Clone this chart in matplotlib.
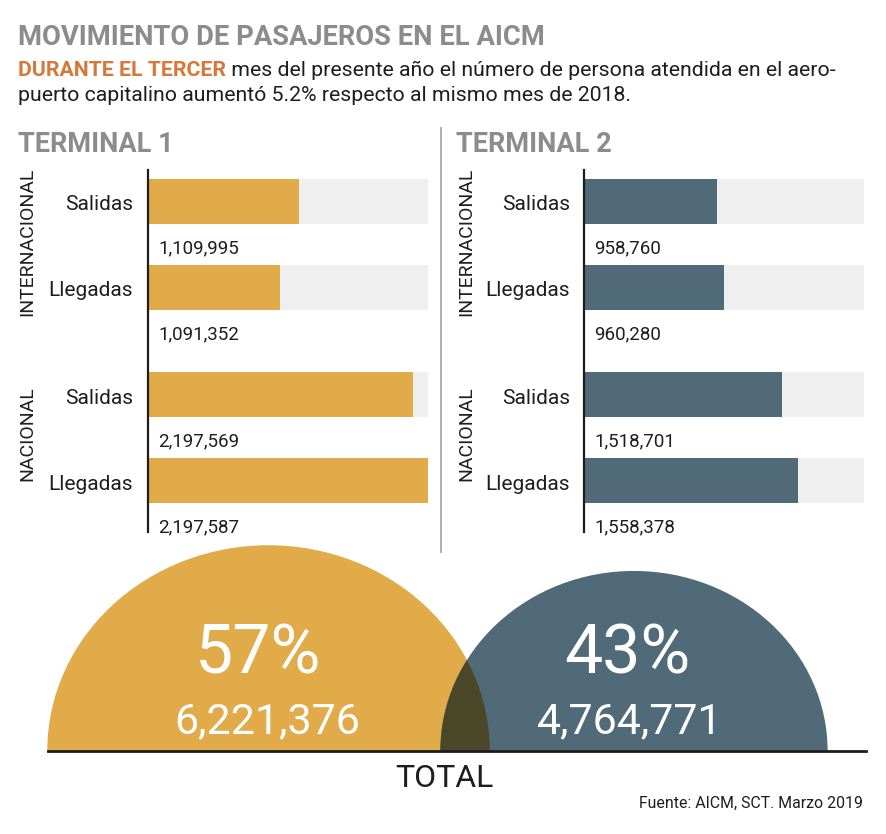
import matplotlib
matplotlib.use("Agg")
import matplotlib.pyplot as plt
from matplotlib.patches import Ellipse
from matplotlib.text import Annotation
import numpy as np

plt.rcParams['font.family'] = ['Roboto', 'DejaVu Sans']

# ---------------- data ----------------
title = "MOVIMIENTO DE PASAJEROS EN EL AICM"
lead_bold = "DURANTE EL TERCER"
lead_rest1 = " mes del presente año el número de persona atendida en el aero-"
lead_line2 = "puerto capitalino aumentó 5.2% respecto al mismo mes de 2018."
terminals = ["TERMINAL 1", "TERMINAL 2"]
groups = ["INTERNACIONAL", "NACIONAL"]
categories = ["Salidas", "Llegadas", "Salidas", "Llegadas"]
t1_values = [1109995, 1091352, 2197569, 2197587]
t2_values = [958760, 960280, 1518701, 1558378]
# bar lengths as drawn in the reference (percent of the grey track)
t1_bar_pct = [54.1, 47.3, 94.6, 100.0]
t2_bar_pct = [47.5, 50.0, 70.7, 76.4]
totals = [6221376, 4764771]
shares = [57, 43]
total_label = "TOTAL"
source = "Fuente: AICM, SCT. Marzo 2019"

# ---------------- style ----------------
ORANGE = "#E2AB4A"
BLUE = "#506A78"
TRACK = "#EFEFEF"
OVERLAP = "#4A4828"
DARK = "#1E1E1E"
GREY = "#8C8C8C"

W, H = 886, 834
fig = plt.figure(figsize=(W / 100, H / 100), dpi=100)
fig.patch.set_facecolor("white")


def fx(x):
    return x / W


def fy(y):
    return 1 - y / H


# header
fig.text(fx(18), fy(45), title, fontsize=19.7, fontweight="bold", color=GREY,
         ha="left", va="baseline")
t_lead = fig.text(fx(18), fy(76), lead_bold, fontsize=15.3, fontweight="bold",
                  color="#D5783A", ha="left", va="baseline")
fig.add_artist(Annotation(lead_rest1, xy=(1, 0), xycoords=t_lead,
                          fontsize=15.3, color=DARK, ha="left", va="bottom"))
fig.text(fx(18), fy(101), lead_line2, fontsize=15.3, color=DARK,
         ha="left", va="baseline")

# separator
fig.add_artist(plt.Line2D([fx(441), fx(441)], [fy(128), fy(552)],
                          color="#AAAAAA", lw=1.3))

bar_centers = [201.5, 287.5, 394.5, 480.5]
bar_h = 45
panels = [
    dict(title_x=18, axis_x=148, track_end=428, vals=t1_values,
         pct=t1_bar_pct, color=ORANGE, group_x=27, cat_x=133),
    dict(title_x=456, axis_x=584, track_end=864, vals=t2_values,
         pct=t2_bar_pct, color=BLUE, group_x=466, cat_x=570),
]
y_top, y_bot = 170, 532

for term, p in zip(terminals, panels):
    fig.text(fx(p["title_x"]), fy(152), term, fontsize=19.5, fontweight="bold",
             color=GREY, ha="left", va="baseline")
    ax = fig.add_axes([fx(p["axis_x"]), fy(y_bot),
                       (p["track_end"] - p["axis_x"]) / W, (y_bot - y_top) / H])
    ax.set_xlim(0, 100)
    ax.set_ylim(y_bot, y_top)
    ax.barh(bar_centers, [100] * 4, height=bar_h, color=TRACK, left=0)
    ax.barh(bar_centers, p["pct"], height=bar_h, color=p["color"], left=0)
    for s in ["top", "right", "bottom"]:
        ax.spines[s].set_visible(False)
    ax.spines["left"].set_linewidth(1.6)
    ax.spines["left"].set_color(DARK)
    ax.set_xticks([])
    ax.set_yticks([])
    ax.patch.set_alpha(0)
    for yc, cat, v in zip(bar_centers, categories, p["vals"]):
        fig.text(fx(p["cat_x"]), fy(yc + 9), cat, fontsize=15, color=DARK,
                 ha="right", va="baseline")
        fig.text(fx(p["axis_x"] + 10), fy(yc + 52), f"{v:,}", fontsize=13.5,
                 color=DARK, ha="left", va="baseline")
    for g, yc in zip(groups, [242, 434]):
        fig.text(fx(p["group_x"]), fy(yc), g, fontsize=14, color=DARK,
                 rotation=90, ha="center", va="center")

# semicircles (area proportional to totals)
base_y = 751
axc = fig.add_axes([0, fy(base_y), 1, (base_y - 520) / H])
axc.set_xlim(0, W)
axc.set_ylim(0, base_y - 520)
axc.axis("off")
k = 0.0887
centers_x = [268.5, 634]
radii = [k * np.sqrt(t) for t in totals]
ratio = 0.93
e1 = Ellipse((centers_x[0], 0), 2 * radii[0], 2 * radii[0] * ratio,
             color=ORANGE, lw=0)
axc.add_patch(e1)
e2 = Ellipse((centers_x[1], 0), 2 * radii[1], 2 * radii[1] * ratio,
             color=BLUE, lw=0)
axc.add_patch(e2)
e3 = Ellipse((centers_x[1], 0), 2 * radii[1], 2 * radii[1] * ratio,
             color=OVERLAP, lw=0)
axc.add_patch(e3)
e3.set_clip_path(e1)

pct_x = [258, 627]
num_x = [267, 630]
for i in range(2):
    fig.text(fx(pct_x[i]), fy(673), f"{shares[i]}%", fontsize=49,
             color="white", ha="center", va="baseline")
    fig.text(fx(num_x[i]), fy(733), f"{totals[i]:,}", fontsize=31,
             color="white", ha="center", va="baseline")

fig.add_artist(plt.Line2D([fx(48), fx(866)], [fy(base_y), fy(base_y)],
                          color=DARK, lw=2))
fig.text(fx(444), fy(787), total_label, fontsize=23, color=DARK,
         ha="center", va="baseline")
fig.text(fx(863), fy(808), source, fontsize=11.4, color=DARK,
         ha="right", va="baseline")

fig.savefig("out.png", dpi=100)
